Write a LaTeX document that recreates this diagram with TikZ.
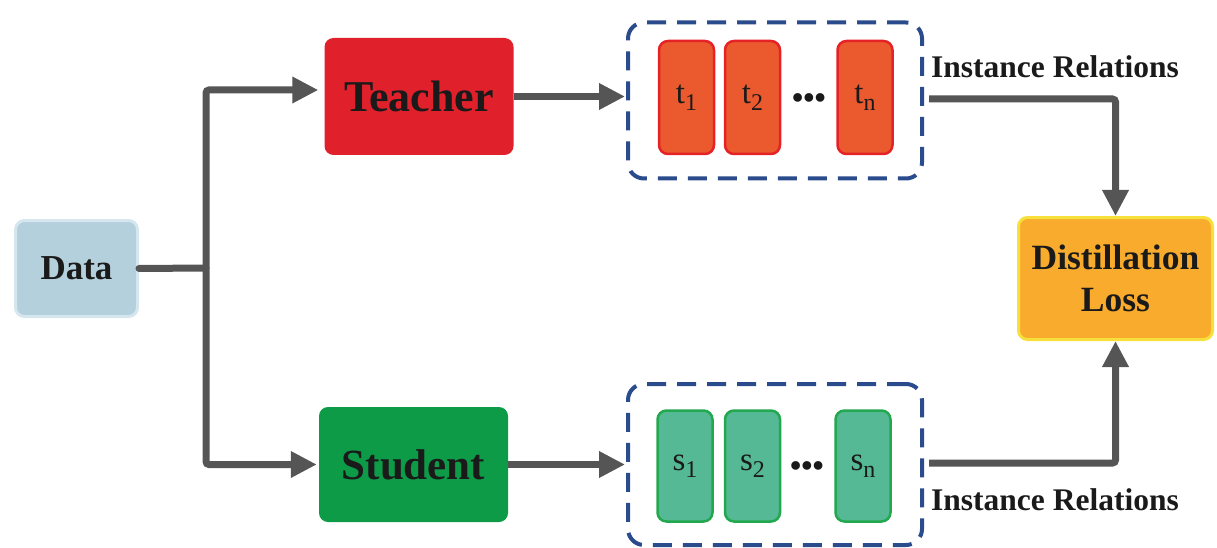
\documentclass[tikz,border=0pt]{standalone}
\usepackage{fontspec}
\setmainfont{Liberation Serif}
\usetikzlibrary{arrows.meta}

\definecolor{datafill}{HTML}{B5D0DD}
\definecolor{dataline}{HTML}{D5E6EE}
\definecolor{teachred}{HTML}{E0202A}
\definecolor{studgreen}{HTML}{0D9B48}
\definecolor{tfill}{HTML}{EB5A2E}
\definecolor{tline}{HTML}{E52226}
\definecolor{sfill}{HTML}{55B996}
\definecolor{sline}{HTML}{23A84F}
\definecolor{groupblue}{HTML}{2A4B8C}
\definecolor{flowgray}{HTML}{555555}
\definecolor{lossfill}{HTML}{F8AB2C}
\definecolor{lossline}{HTML}{F7E03C}
\definecolor{ink}{HTML}{1A1A1A}

\newcommand{\featlabel}[2]{#1\raisebox{-0.22em}{\fontsize{24}{24}\selectfont #2}}

\tikzset{
  mainbox/.style={rectangle, rounded corners=9pt, inner sep=0pt, text=ink,
    font=\fontsize{44}{48}\selectfont\bfseries},
  featbox/.style={rectangle, rounded corners=9pt, line width=2.5pt, inner sep=0pt,
    minimum width=55pt, minimum height=113pt, text=ink,
    font=\fontsize{33}{36}\selectfont},
  groupbox/.style={rectangle, rounded corners=16pt, draw=groupblue, line width=4pt,
    dash pattern=on 19pt off 11pt, inner sep=0pt, minimum width=294pt},
  flow/.style={draw=flowgray, line width=7pt, rounded corners=3pt,
    -{Triangle[length=26pt,width=25pt]}},
  flowline/.style={draw=flowgray, line width=7pt, rounded corners=3pt, line cap=round},
  relation/.style={text=ink, font=\fontsize{31.5}{34}\selectfont\bfseries, inner sep=0pt},
  dotsnode/.style={text=ink, font=\fontsize{32}{32}\selectfont\bfseries, inner sep=0pt}
}

\begin{document}
\begin{tikzpicture}[x=1pt,y=-1pt]
  \useasboundingbox (0,0) rectangle (1217,548);

  % input
  \node[mainbox, fill=datafill, draw=dataline, line width=3pt,
        minimum width=122pt, minimum height=96pt,
        font=\fontsize{35}{38}\selectfont\bfseries] (data) at (76.5,268.5) {Data};

  % teacher / student networks
  \node[mainbox, fill=teachred, minimum width=189pt, minimum height=117pt] (teacher) at (419,96.5) {Teacher};
  \node[mainbox, fill=studgreen, minimum width=189pt, minimum height=115pt,
        font=\fontsize{43}{48}\selectfont\bfseries] (student) at (413.5,464.5) {Student};

  % teacher feature group
  \node[groupbox, minimum height=156pt] (tgroup) at (775,100.5) {};
  \node[featbox, fill=tfill, draw=tline] (t1) at (686.5,97.5) {\featlabel{t}{1}};
  \node[featbox, fill=tfill, draw=tline] (t2) at (752.5,97.5) {\featlabel{t}{2}};
  \node[featbox, fill=tfill, draw=tline] (tn) at (865,97.5) {\featlabel{t}{n}};
  \node[dotsnode] (tdots) at (809,101) {•••};

  % student feature group
  \node[groupbox, minimum height=161pt] (sgroup) at (775,464.5) {};
  \node[featbox, fill=sfill, draw=sline, minimum height=111pt] (s1) at (685,466) {\featlabel{s}{1}};
  \node[featbox, fill=sfill, draw=sline, minimum height=111pt] (s2) at (752.5,466) {\featlabel{s}{2}};
  \node[featbox, fill=sfill, draw=sline, minimum height=111pt] (sn) at (863,466) {\featlabel{s}{n}};
  \node[dotsnode] (sdots) at (807,469) {•••};

  % loss
  \node[mainbox, fill=lossfill, draw=lossline, line width=3pt,
        minimum width=194pt, minimum height=122pt, align=center,
        font=\fontsize{35.5}{42}\selectfont\bfseries] (loss) at (1115.5,278.5) {Distillation\\Loss};

  % relation labels
  \node[relation, anchor=base west] (trel) at (931,78) {Instance Relations};
  \node[relation, anchor=base west] (srel) at (931,510) {Instance Relations};

  % connectors
  \coordinate (split) at (206,268);
  \draw[flowline] (data.east) -- (split);
  \draw[flow, shorten >=6pt] (split) |- ([yshift=6.5pt]teacher.west);
  \draw[flow, shorten >=2pt] (split) |- (student.west);
  \draw[flow, shorten >=1pt] (teacher.east) -- (teacher.east -| tgroup.west);
  \draw[flow, shorten >=1pt] (student.east) -- (student.east -| sgroup.west);
  \coordinate (tout) at (929,99);
  \coordinate (sout) at (929,463);
  \draw[flow] (tout) -| (loss.north);
  \draw[flow] (sout) -| (loss.south);
\end{tikzpicture}
\end{document}
